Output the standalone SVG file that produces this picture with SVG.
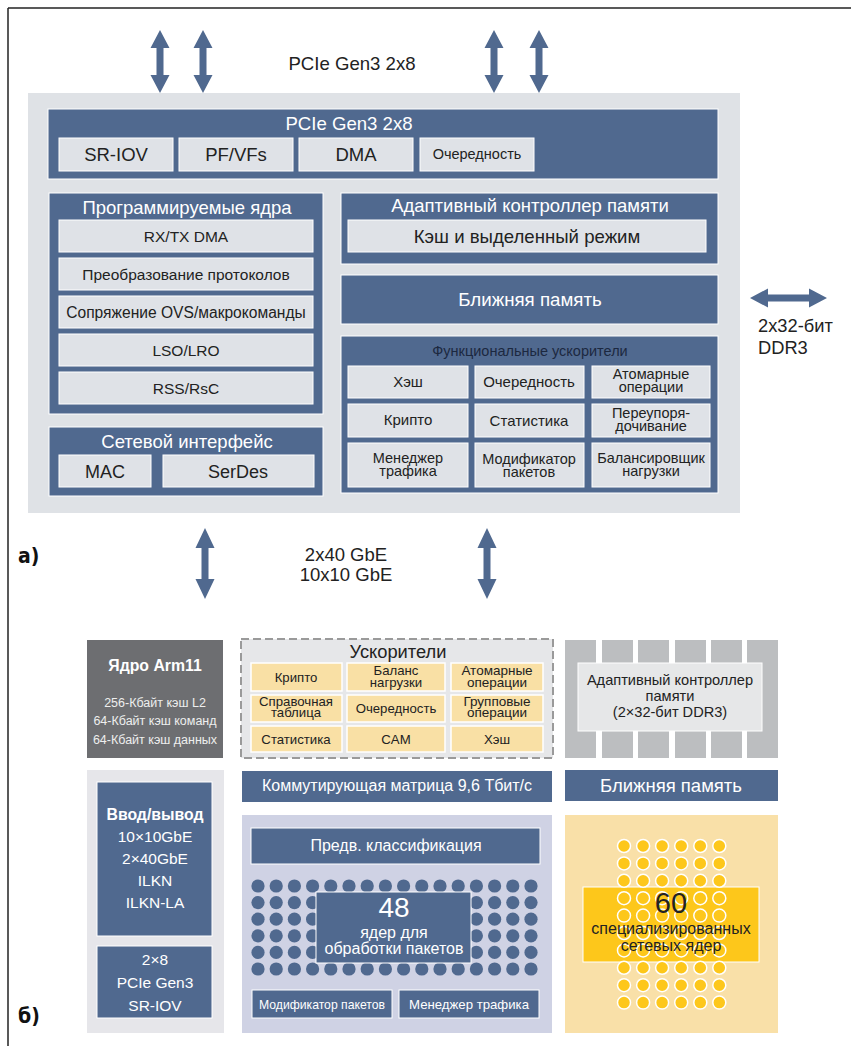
<svg xmlns="http://www.w3.org/2000/svg" xmlns:xlink="http://www.w3.org/1999/xlink" width="851" height="1046" viewBox="0 0 851 1046">
<style>
text{font-family:"Liberation Sans",Arial,sans-serif;text-anchor:middle}
.blue{fill:#50698f;stroke:#ffffff;stroke-width:1}
.lt{fill:#dfe2e7;stroke:#ffffff;stroke-width:1}
.arrow{fill:#50698f}
.w{fill:#ffffff}
.d{fill:#222222}
.cell{fill:#f9e0a5;stroke:#ffffff;stroke-width:1.5}
.stripe{fill:#bcbec0}
.lbl{font-family:"DejaVu Sans Condensed","DejaVu Sans",sans-serif;font-stretch:condensed;font-weight:bold;font-size:21px;fill:#111;text-anchor:start}
.dot{fill:#50698f}
.ydot{fill:#fdc71b;stroke:#ffffff;stroke-width:1.5}
</style>
<defs>
<g id="row16">
<circle class="dot" cx="258" cy="0" r="6.6"/><circle class="dot" cx="276.2" cy="0" r="6.6"/><circle class="dot" cx="294.4" cy="0" r="6.6"/><circle class="dot" cx="312.6" cy="0" r="6.6"/><circle class="dot" cx="330.8" cy="0" r="6.6"/><circle class="dot" cx="349" cy="0" r="6.6"/><circle class="dot" cx="367.2" cy="0" r="6.6"/><circle class="dot" cx="385.4" cy="0" r="6.6"/><circle class="dot" cx="403.6" cy="0" r="6.6"/><circle class="dot" cx="421.8" cy="0" r="6.6"/><circle class="dot" cx="440" cy="0" r="6.6"/><circle class="dot" cx="458.2" cy="0" r="6.6"/><circle class="dot" cx="476.4" cy="0" r="6.6"/><circle class="dot" cx="494.6" cy="0" r="6.6"/><circle class="dot" cx="512.8" cy="0" r="6.6"/><circle class="dot" cx="531" cy="0" r="6.6"/>
</g>
<g id="row6">
<circle class="ydot" cx="624" cy="0" r="6.5"/><circle class="ydot" cx="643.1" cy="0" r="6.5"/><circle class="ydot" cx="662.1" cy="0" r="6.5"/><circle class="ydot" cx="681.2" cy="0" r="6.5"/><circle class="ydot" cx="700.3" cy="0" r="6.5"/><circle class="ydot" cx="719.3" cy="0" r="6.5"/>
</g>
</defs>

<!-- frame -->
<g id="frame">
<line x1="8" y1="8" x2="851" y2="8" stroke="#222" stroke-width="1.5"/>
<line x1="8" y1="8" x2="8" y2="1046" stroke="#222" stroke-width="1.5"/>
</g>

<!-- ========== Part a ========== -->
<g id="panel-a">
<rect x="28" y="93" width="712" height="420" fill="#dfe2e6"/>
</g>

<g id="pcie">
<rect class="blue" x="48" y="109" width="670" height="70"/>
<text class="w" x="349" y="130" font-size="18.6">PCIe Gen3 2x8</text>
<rect class="lt" x="59" y="138" width="114" height="33"/>
<text class="d" x="116" y="161" font-size="18.5">SR-IOV</text>
<rect class="lt" x="179" y="138" width="114" height="33"/>
<text class="d" x="236" y="161" font-size="18.5">PF/VFs</text>
<rect class="lt" x="299" y="138" width="114" height="33"/>
<text class="d" x="356" y="161" font-size="18.5">DMA</text>
<rect class="lt" x="420" y="138" width="114" height="33"/>
<text class="d" x="477" y="159" font-size="14.5">Очередность</text>
</g>

<g id="prog-cores">
<rect class="blue" x="49" y="193" width="274" height="221"/>
<text class="w" x="187" y="214" font-size="18.5">Программируемые ядра</text>
<rect class="lt" x="59" y="220" width="254" height="32"/>
<text class="d" x="186" y="242" font-size="15.5">RX/TX DMA</text>
<rect class="lt" x="59" y="258" width="254" height="32"/>
<text class="d" x="186" y="280" font-size="15.5">Преобразование протоколов</text>
<rect class="lt" x="59" y="296" width="254" height="32"/>
<text class="d" x="186" y="318" font-size="15.6">Сопряжение OVS/макрокоманды</text>
<rect class="lt" x="59" y="334" width="254" height="32"/>
<text class="d" x="186" y="356" font-size="15.5">LSO/LRO</text>
<rect class="lt" x="59" y="372" width="254" height="32"/>
<text class="d" x="186" y="394" font-size="15.5">RSS/RsC</text>
</g>

<g id="net-if">
<rect class="blue" x="49" y="427" width="274" height="69"/>
<text class="w" x="187" y="448" font-size="18.5">Сетевой интерфейс</text>
<rect class="lt" x="59" y="455" width="92" height="32"/>
<text class="d" x="105" y="478" font-size="18">MAC</text>
<rect class="lt" x="163" y="455" width="151" height="32"/>
<text class="d" x="238" y="478" font-size="18">SerDes</text>
</g>

<g id="mem-ctrl">
<rect class="blue" x="341" y="193" width="377" height="71"/>
<text class="w" x="530" y="212" font-size="18.5">Адаптивный контроллер памяти</text>
<rect class="lt" x="348" y="220" width="358" height="32"/>
<text class="d" x="527" y="243" font-size="18.6">Кэш и выделенный режим</text>
</g>

<g id="near-mem">
<rect class="blue" x="341" y="275" width="377" height="49"/>
<text class="w" x="530" y="306" font-size="18.7">Ближняя память</text>
</g>

<g id="func-acc">
<rect class="blue" x="341" y="336" width="377" height="157"/>
<text x="530" y="356" font-size="14.5" fill="#1c2840">Функциональные ускорители</text>
<rect class="lt" x="348" y="366" width="120" height="32"/>
<text class="d" x="408" y="387" font-size="15">Хэш</text>
<rect class="lt" x="475" y="366" width="109" height="32"/>
<text class="d" x="529" y="387" font-size="15">Очередность</text>
<rect class="lt" x="592" y="366" width="118" height="32"/>
<text class="d" x="651" y="379" font-size="14.5">Атомарные</text>
<text class="d" x="651" y="392" font-size="14.5">операции</text>
<rect class="lt" x="348" y="404" width="120" height="33"/>
<text class="d" x="408" y="425" font-size="15">Крипто</text>
<rect class="lt" x="475" y="404" width="109" height="33"/>
<text class="d" x="529" y="426" font-size="15">Статистика</text>
<rect class="lt" x="592" y="404" width="118" height="33"/>
<text class="d" x="651" y="418" font-size="14.5">Переупоря-</text>
<text class="d" x="651" y="431" font-size="14.5">дочивание</text>
<rect class="lt" x="348" y="443" width="120" height="44"/>
<text class="d" x="408" y="463" font-size="14.5">Менеджер</text>
<text class="d" x="408" y="476" font-size="14.5">трафика</text>
<rect class="lt" x="475" y="443" width="109" height="44"/>
<text class="d" x="529" y="464" font-size="14.5">Модификатор</text>
<text class="d" x="529" y="477" font-size="14.5">пакетов</text>
<rect class="lt" x="592" y="443" width="118" height="44"/>
<text class="d" x="651" y="463" font-size="14.5">Балансировщик</text>
<text class="d" x="651" y="476" font-size="14.5">нагрузки</text>
</g>

<g id="connectors">
<polygon class="arrow" points="160,30 169.5,48 163.5,48 163.5,75 169.5,75 160,93 150.5,75 156.5,75 156.5,48 150.5,48"/>
<polygon class="arrow" points="203,30 212.5,48 206.5,48 206.5,75 212.5,75 203,93 193.5,75 199.5,75 199.5,48 193.5,48"/>
<polygon class="arrow" points="494,30 503.5,48 497.5,48 497.5,75 503.5,75 494,93 484.5,75 490.5,75 490.5,48 484.5,48"/>
<polygon class="arrow" points="539,30 548.5,48 542.5,48 542.5,75 548.5,75 539,93 529.5,75 535.5,75 535.5,48 529.5,48"/>
<polygon class="arrow" points="750,298 768,288.5 768,294.5 809,294.5 809,288.5 827,298 809,307.5 809,301.5 768,301.5 768,307.5"/>
<polygon class="arrow" points="205,528 214.5,548 208.5,548 208.5,579 214.5,579 205,599 195.5,579 201.5,579 201.5,548 195.5,548"/>
<polygon class="arrow" points="487,528 496.5,548 490.5,548 490.5,579 496.5,579 487,599 477.5,579 483.5,579 483.5,548 477.5,548"/>
</g>

<g id="labels-a">
<text class="d" x="352" y="70" font-size="18.6">PCIe Gen3 2x8</text>
<text class="d" x="758" y="332" font-size="18.3" style="text-anchor:start">2x32-бит</text>
<text class="d" x="758" y="354" font-size="18.3" style="text-anchor:start">DDR3</text>
<text class="d" x="346" y="561" font-size="18.5">2x40 GbE</text>
<text class="d" x="346" y="581" font-size="18.5">10x10 GbE</text>
<text class="lbl" x="18" y="563">а)</text>
</g>

<!-- ========== Part b ========== -->
<g id="arm11">
<rect x="87" y="640" width="136" height="118" fill="#6d6e71"/>
<text x="155" y="671" font-size="15.8" font-weight="bold" fill="#ffffff">Ядро Arm11</text>
<text x="155" y="707" font-size="12.5" fill="#eeeeee">256-Кбайт кэш L2</text>
<text x="155" y="725" font-size="12.5" fill="#eeeeee">64-Кбайт кэш команд</text>
<text x="155" y="744" font-size="12.5" fill="#eeeeee">64-Кбайт кэш данных</text>
</g>

<g id="accel-b">
<rect x="241" y="639" width="312" height="119" fill="#e6e7e9" stroke="#9a9a9a" stroke-width="2" stroke-dasharray="8,4"/>
<text class="d" x="398" y="658" font-size="18.3">Ускорители</text>
<rect class="cell" x="251" y="663" width="91" height="28"/>
<text class="d" x="296" y="682" font-size="13.2">Крипто</text>
<rect class="cell" x="347" y="663" width="98" height="28"/>
<text class="d" x="396" y="675" font-size="13.2">Баланс</text>
<text class="d" x="396" y="687" font-size="13.2">нагрузки</text>
<rect class="cell" x="451" y="663" width="92" height="28"/>
<text class="d" x="497" y="675" font-size="13.5">Атомарные</text>
<text class="d" x="497" y="687" font-size="13.5">операции</text>
<rect class="cell" x="251" y="695" width="91" height="27"/>
<text class="d" x="296" y="706" font-size="13.2">Справочная</text>
<text class="d" x="296" y="717" font-size="13.2">таблица</text>
<rect class="cell" x="347" y="695" width="98" height="27"/>
<text class="d" x="396" y="713" font-size="13.2">Очередность</text>
<rect class="cell" x="451" y="695" width="92" height="27"/>
<text class="d" x="497" y="706" font-size="13.5">Групповые</text>
<text class="d" x="497" y="717" font-size="13.5">операции</text>
<rect class="cell" x="251" y="726" width="91" height="26"/>
<text class="d" x="296" y="744" font-size="13.2">Статистика</text>
<rect class="cell" x="347" y="726" width="98" height="26"/>
<text class="d" x="396" y="744" font-size="13.2">CAM</text>
<rect class="cell" x="451" y="726" width="92" height="26"/>
<text class="d" x="497" y="744" font-size="13.2">Хэш</text>
</g>

<g id="mem-ctrl-b">
<rect class="stripe" x="565" y="640" width="31" height="118"/>
<rect class="stripe" x="602" y="640" width="31" height="118"/>
<rect class="stripe" x="638" y="640" width="31" height="118"/>
<rect class="stripe" x="675" y="640" width="31" height="118"/>
<rect class="stripe" x="711" y="640" width="31" height="118"/>
<rect class="stripe" x="747" y="640" width="31" height="118"/>
<rect x="578" y="663" width="184" height="68" fill="#e6e7e8" stroke="#ffffff" stroke-width="1"/>
<text class="d" x="670" y="685" font-size="14.6">Адаптивный контроллер</text>
<text class="d" x="670" y="701" font-size="14.6">памяти</text>
<text class="d" x="670" y="717" font-size="14.6">(2×32-бит DDR3)</text>
</g>

<g id="near-mem-b">
<rect x="565" y="770" width="213" height="31" fill="#50698f"/>
<text class="w" x="671" y="792" font-size="18.5">Ближняя память</text>
</g>

<g id="io-b">
<rect x="87" y="770" width="137" height="263" fill="#e6e6ea"/>
<rect class="blue" x="97" y="782" width="115" height="154"/>
<text class="w" x="155" y="820" font-size="15.8" font-weight="bold">Ввод/вывод</text>
<text class="w" x="155" y="842" font-size="15.5">10×10GbE</text>
<text class="w" x="155" y="864" font-size="15.5">2×40GbE</text>
<text class="w" x="155" y="886" font-size="15.5">ILKN</text>
<text class="w" x="155" y="908" font-size="15.5">ILKN-LA</text>
<rect class="blue" x="97" y="946" width="115" height="72"/>
<text class="w" x="155" y="965" font-size="15.5">2×8</text>
<text class="w" x="155" y="988" font-size="15.5">PCIe Gen3</text>
<text class="w" x="155" y="1011" font-size="15.5">SR-IOV</text>
</g>

<g id="switch-b">
<rect x="242" y="771" width="310" height="31" fill="#50698f"/>
<text class="w" x="397" y="791" font-size="16">Коммутирующая матрица 9,6 Тбит/с</text>
</g>

<g id="cores48">
<rect x="242" y="815" width="310" height="218" fill="#cfd2e4"/>
<rect class="blue" x="251" y="828" width="289" height="36"/>
<text class="w" x="396" y="851" font-size="16">Предв. классификация</text>
<use xlink:href="#row16" href="#row16" y="886"/>
<use xlink:href="#row16" href="#row16" y="902.6"/>
<use xlink:href="#row16" href="#row16" y="919.2"/>
<use xlink:href="#row16" href="#row16" y="935.8"/>
<use xlink:href="#row16" href="#row16" y="952.4"/>
<use xlink:href="#row16" href="#row16" y="969"/>
<rect class="blue" x="316" y="892" width="155" height="71"/>
<text class="w" x="394" y="917" font-size="28">48</text>
<text class="w" x="394" y="938" font-size="16">ядер для</text>
<text class="w" x="394" y="954" font-size="16">обработки пакетов</text>
<rect class="blue" x="252" y="990" width="140" height="28"/>
<text class="w" x="322" y="1009" font-size="12.2">Модификатор пакетов</text>
<rect class="blue" x="399" y="990" width="140" height="28"/>
<text class="w" x="469" y="1009" font-size="13.2">Менеджер трафика</text>
</g>

<g id="cores60">
<rect x="565" y="815" width="213" height="218" fill="#f9e0a8"/>
<rect x="583" y="887" width="176" height="75" fill="#fdc71b" stroke="#ffffff" stroke-width="1"/>
<use xlink:href="#row6" href="#row6" y="846"/>
<use xlink:href="#row6" href="#row6" y="863.4"/>
<use xlink:href="#row6" href="#row6" y="880.8"/>
<use xlink:href="#row6" href="#row6" y="898.2"/>
<use xlink:href="#row6" href="#row6" y="915.6"/>
<use xlink:href="#row6" href="#row6" y="933"/>
<use xlink:href="#row6" href="#row6" y="950.4"/>
<use xlink:href="#row6" href="#row6" y="967.8"/>
<use xlink:href="#row6" href="#row6" y="985.2"/>
<use xlink:href="#row6" href="#row6" y="1002.6"/>
<text class="d" x="671" y="913" font-size="29">60</text>
<text class="d" x="671" y="934" font-size="16">специализированных</text>
<text class="d" x="671" y="951" font-size="16">сетевых ядер</text>
</g>

<g id="labels-b">
<text class="lbl" x="18" y="1023">б)</text>
</g>
</svg>
